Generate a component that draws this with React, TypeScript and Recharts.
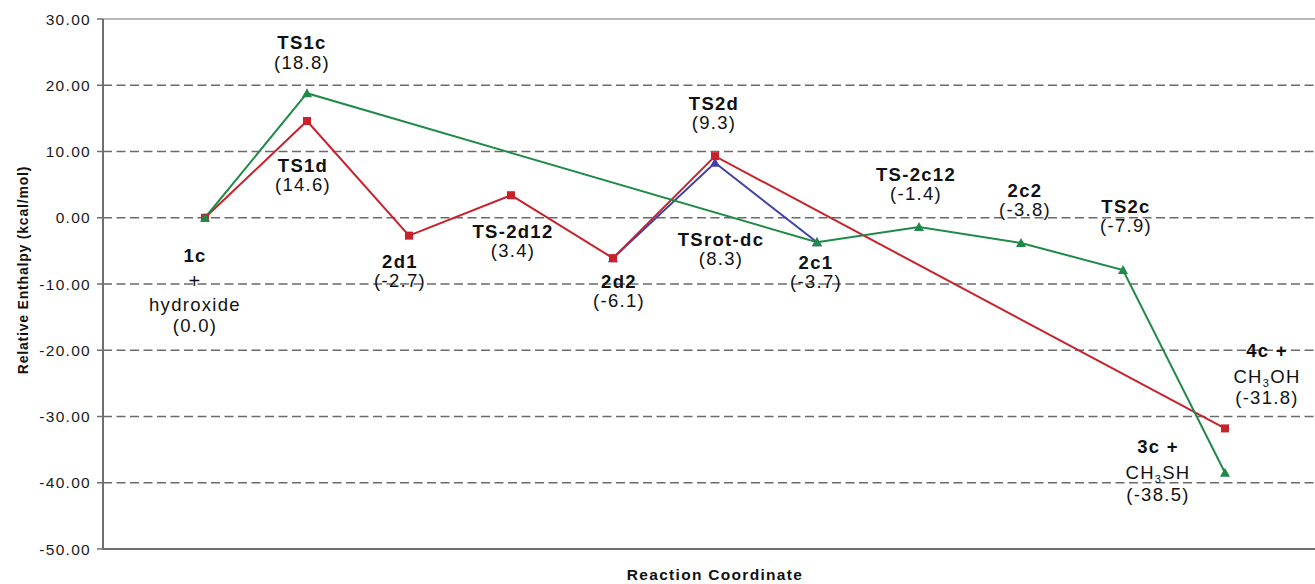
import React from 'react';
import { LineChart, Line, XAxis, YAxis, ReferenceLine, Label } from 'recharts';

// energy profile, step index along the reaction coordinate
const yTicks = [-50, -40, -30, -20, -10, 0, 10, 20, 30];
const gridValues = [-40, -30, -20, -10, 0, 10, 20];

const greenSteps = [1, 2, 7, 8, 9, 10, 11];
const greenValues = [0.0, 18.8, -3.7, -1.4, -3.8, -7.9, -38.5];
const greenNames = ['', 'TS1c', '2c1', 'TS-2c12', '2c2', 'TS2c', '3c +'];

const redSteps = [1, 2, 3, 4, 5, 6, 11];
const redValues = [0.0, 14.6, -2.7, 3.4, -6.1, 9.3, -31.8];
const redNames = ['1c', 'TS1d', '2d1', 'TS-2d12', '2d2', 'TS2d', '4c +'];

const blueSteps = [5, 6, 7];
const blueValues = [-6.1, 8.3, -3.7];
const blueNames = ['', 'TSrot-dc', ''];

const extraLines: Record<string, string[]> = {
  '1c': ['+', 'hydroxide'],
  '4c +': ['CH_3OH'],
  '3c +': ['CH_3SH'],
};

// label offsets from the point (px): dx, and baseline dy of each text line
const labelPlacement: Record<string, { dx: number; dy: number[] }> = {
  '1c': { dx: -10, dy: [44, 70, 93, 114] },
  TS1c: { dx: -5, dy: [-44, -24] },
  TS1d: { dx: -4, dy: [51, 70] },
  '2d1': { dx: -9, dy: [32, 51] },
  'TS-2d12': { dx: 2, dy: [43, 62] },
  '2d2': { dx: 6, dy: [30, 49] },
  TS2d: { dx: -1, dy: [-46, -27] },
  'TSrot-dc': { dx: 6, dy: [83, 102] },
  '2c1': { dx: -1, dy: [27, 46] },
  'TS-2c12': { dx: -3, dy: [-46, -27] },
  '2c2': { dx: 4, dy: [-46, -27] },
  TS2c: { dx: 3, dy: [-57, -38] },
  '4c +': { dx: 42, dy: [-71, -45, -24] },
  '3c +': { dx: -67, dy: [-20, 6, 28] },
};

const GREEN = '#1f8a47';
const RED = '#c8222c';
const BLUE = '#4040a8';

const toRows = (steps: number[], values: number[], names: string[]) =>
  steps.map((s, i) => ({ step: s, value: values[i], name: names[i] }));

const greenData = toRows(greenSteps, greenValues, greenNames);
const redData = toRows(redSteps, redValues, redNames);
const blueData = toRows(blueSteps, blueValues, blueNames);

const withSub = (t: string) => {
  if (!t.includes('_')) return t;
  const [a, rest] = t.split('_');
  return (
    <>
      {a}
      <tspan fontSize={11} dy={4}>
        {rest[0]}
      </tspan>
      <tspan dy={-4}>{rest.slice(1)}</tspan>
    </>
  );
};

const makeDot = (color: string, shape: 'tri' | 'sq') => (props: any) => {
  const { cx, cy, index, payload } = props;
  if (cx == null || cy == null) return <g key={`e-${index}`} />;
  const name: string = payload?.name ?? '';
  const place = labelPlacement[name];
  const texts = name ? [name, ...(extraLines[name] ?? []), `(${payload.value.toFixed(1)})`] : [];
  return (
    <g key={`d-${color}-${index}`}>
      {shape === 'tri' ? (
        <polygon points={`${cx},${cy - 5} ${cx - 5},${cy + 4} ${cx + 5},${cy + 4}`} fill={color} />
      ) : (
        <rect x={cx - 4} y={cy - 4} width={8} height={8} fill={color} />
      )}
      {place &&
        texts.map((t, i) => (
          <text
            key={i}
            x={cx + place.dx}
            y={cy + place.dy[i]}
            textAnchor="middle"
            fontSize={t === '+' ? 20 : 18.5}
            fontWeight={i === 0 ? 700 : 400}
            fill="#111"
          >
            {withSub(t)}
          </text>
        ))}
    </g>
  );
};

export default function App() {
  return (
    <div
      style={{
        position: 'absolute',
        left: 0,
        top: 0,
        width: 1315,
        height: 584,
        overflow: 'hidden',
        background: '#fff',
        fontFamily: '"Liberation Sans", Arial, sans-serif',
        letterSpacing: '1.3px',
      }}
    >
      <LineChart width={1330} height={584} margin={{ top: 19, right: 3, bottom: 0, left: 0 }}>
        <XAxis
          type="number"
          dataKey="step"
          domain={[0, 12]}
          ticks={[]}
          tick={false}
          tickLine={false}
          height={35}
          axisLine={{ stroke: '#6d7072', strokeWidth: 2 }}
        >
          <Label
            content={(p: any) => {
              const vb = p.viewBox;
              return (
                <text x={vb.x + vb.width / 2} y={vb.y + 31} textAnchor="middle" fontSize={15.5} fontWeight={700} fill="#111">
                  Reaction Coordinate
                </text>
              );
            }}
          />
        </XAxis>
        <YAxis
          type="number"
          domain={[-50, 30]}
          ticks={yTicks}
          width={103}
          tickFormatter={(v: number) => v.toFixed(2)}
          tickSize={6}
          tickMargin={6}
          tickLine={{ stroke: '#6d7072', strokeWidth: 1.5 }}
          axisLine={{ stroke: '#6d7072', strokeWidth: 2 }}
          tick={{ fontSize: 15.5, fill: '#1a1a1a' }}
        >
          <Label
            content={(p: any) => {
              const vb = p.viewBox;
              const x = vb.x + 28;
              const y = vb.y + vb.height / 2 - 14;
              return (
                <text
                  x={x}
                  y={y}
                  transform={`rotate(-90, ${x}, ${y})`}
                  textAnchor="middle"
                  fontSize={14}
                  fontWeight={700}
                  fill="#111"
                  style={{ letterSpacing: '0.8px' }}
                >
                  Relative Enthalpy (kcal/mol)
                </text>
              );
            }}
          />
        </YAxis>
        <ReferenceLine y={30} stroke="#b8babc" strokeWidth={2} />
        {gridValues.map((v) => (
          <ReferenceLine key={v} y={v} stroke="#6a6a6a" strokeWidth={1.5} strokeDasharray="9 4.5" />
        ))}
        <Line
          data={blueData}
          dataKey="value"
          type="linear"
          stroke={BLUE}
          strokeWidth={2}
          dot={makeDot(BLUE, 'tri')}
          activeDot={false}
          isAnimationActive={false}
        />
        <Line
          data={redData}
          dataKey="value"
          type="linear"
          stroke={RED}
          strokeWidth={2}
          dot={makeDot(RED, 'sq')}
          activeDot={false}
          isAnimationActive={false}
        />
        <Line
          data={greenData}
          dataKey="value"
          type="linear"
          stroke={GREEN}
          strokeWidth={2}
          dot={makeDot(GREEN, 'tri')}
          activeDot={false}
          isAnimationActive={false}
        />
      </LineChart>
    </div>
  );
}
